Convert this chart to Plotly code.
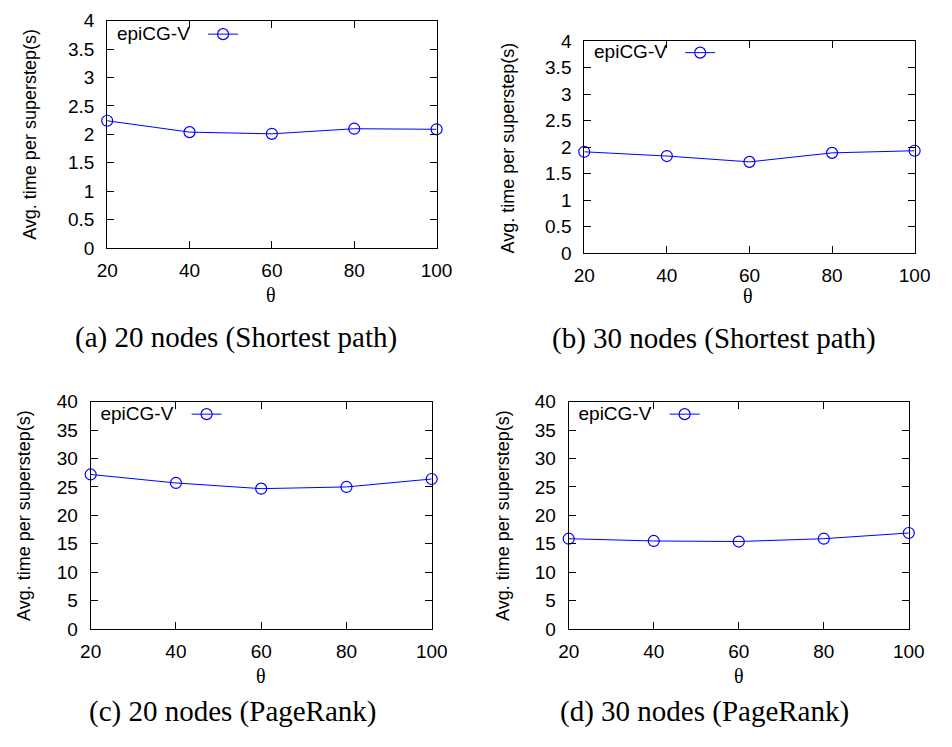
import plotly.graph_objects as go

W, H = 952, 747

theta = [20, 40, 60, 80, 100]
sp_20nodes = [2.24, 2.04, 2.01, 2.10, 2.09]
sp_30nodes = [1.91, 1.83, 1.72, 1.89, 1.93]
pr_20nodes = [27.2, 25.7, 24.7, 25.0, 26.4]
pr_30nodes = [15.9, 15.5, 15.4, 15.9, 16.9]

series_name = "epiCG-V"
y_title = "Avg. time per superstep(s)"
x_title = "θ"
captions = ["(a) 20 nodes (Shortest path)", "(b) 30 nodes (Shortest path)",
            "(c) 20 nodes (PageRank)", "(d) 30 nodes (PageRank)"]
y_ranges = [[0, 4], [0, 4], [0, 40], [0, 40]]
y_dticks = [0.5, 0.5, 5, 5]

# layout in pixels (left, right, top, bottom) for each panel
boxes = [(99, 438, 11, 245), (590, 930, 32, 250), (82, 433, 403, 637), (574, 924, 403, 637)]
legend_pos = [(107, 25), (598, 44), (90, 416), (582, 416)]
ytitle_pos = [(20, 128), (512, 142), (14, 520), (507, 520)]
xtitle_pos = [(268, 293), (759, 294), (257, 685), (749, 685)]
caption_pos = [(232, 337), (724, 338), (228, 722), (714, 722)]

data = [sp_20nodes, sp_30nodes, pr_20nodes, pr_30nodes]

px = lambda x: x / W
py = lambda y: 1 - y / H

fig = go.Figure()
layout = dict(width=W, height=H, margin=dict(l=0, r=0, t=0, b=0),
              paper_bgcolor="white", plot_bgcolor="white",
              font=dict(family="Liberation Sans, Arial, sans-serif", color="black"))
annotations = []
BLUE = "#0000ff"
for i in range(4):
    sfx = "" if i == 0 else str(i + 1)
    lg = "legend" if i == 0 else f"legend{i+1}"
    fig.add_trace(go.Scatter(
        x=theta, y=data[i], mode="lines+markers", name=" ",
        line=dict(color=BLUE, width=1),
        marker=dict(symbol="circle-open", size=11, color=BLUE, line=dict(width=1.2, color=BLUE)),
        cliponaxis=False, showlegend=True, legend=lg,
        xaxis="x" + sfx, yaxis="y" + sfx))
    l, r, t, b = boxes[i]
    axcommon = dict(showline=True, linecolor="black", linewidth=1, mirror="ticks",
                    ticks="inside", ticklen=7, tickcolor="black", tickwidth=1,
                    showgrid=False, zeroline=False, tickfont=dict(size=19, color="black"))
    layout["xaxis" + sfx] = dict(axcommon, domain=[px(l), px(r)], range=[20, 100],
                                 tickvals=theta, anchor="y" + sfx, ticklabelstandoff=5)
    layout["yaxis" + sfx] = dict(axcommon, domain=[py(b), py(t)], range=y_ranges[i],
                                 dtick=y_dticks[i], tick0=0, anchor="x" + sfx, ticklabelstandoff=8)
    lx, ly = legend_pos[i]
    layout[lg] = dict(x=px(lx), y=py(ly), xanchor="left", yanchor="middle",
                      bgcolor="rgba(0,0,0,0)", borderwidth=0,
                      title=dict(text=series_name + "&nbsp;", side="left",
                                 font=dict(size=19, color="black")),
                      font=dict(size=19), itemwidth=30)
    ax, ay = ytitle_pos[i]
    annotations.append(dict(text=y_title, x=px(ax), y=py(ay), xref="paper", yref="paper",
                            textangle=-90, showarrow=False, xanchor="center", yanchor="middle",
                            font=dict(size=18, color="black")))
    tx, ty = xtitle_pos[i]
    annotations.append(dict(text=x_title, x=px(tx), y=py(ty), xref="paper", yref="paper",
                            showarrow=False, xanchor="center", yanchor="middle",
                            font=dict(size=20, color="black", family="Liberation Serif, serif")))
    cx, cy = caption_pos[i]
    annotations.append(dict(text=captions[i], x=px(cx), y=py(cy), xref="paper", yref="paper",
                            showarrow=False, xanchor="center", yanchor="middle",
                            font=dict(size=29, color="black", family="Liberation Serif, serif")))

layout["annotations"] = annotations
fig.update_layout(**layout)
fig.write_html("out.html")
